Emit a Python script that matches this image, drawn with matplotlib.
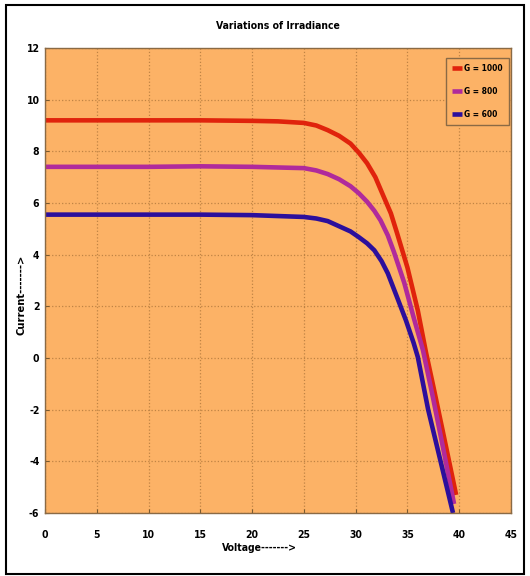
import matplotlib
matplotlib.use("Agg")
import matplotlib.pyplot as plt
from matplotlib.patches import Rectangle
from matplotlib import font_manager as fm

plt.rcParams["axes.unicode_minus"] = False

# Data
v_1000 = [0, 5, 10, 15, 20, 22.5, 25, 26.2, 27.3, 28.4, 29.5, 30.3, 31.1, 31.9, 32.7, 33.4, 34.0, 35.0, 36.0, 36.8, 37.5, 38.5, 39.7]
i_1000 = [9.2, 9.2, 9.2, 9.2, 9.18, 9.16, 9.1, 9.0, 8.82, 8.6, 8.3, 7.95, 7.54, 7.0, 6.25, 5.6, 4.83, 3.5, 1.84, 0.2, -1.1, -3.0, -5.3]

v_800 = [0, 5, 10, 15, 20, 25, 26.2, 27.3, 28.4, 29.5, 30.3, 31.1, 31.8, 32.4, 33.1, 33.7, 34.7, 35.6, 36.5, 37.5, 38.5, 39.5]
i_800 = [7.4, 7.4, 7.4, 7.42, 7.4, 7.35, 7.26, 7.12, 6.92, 6.65, 6.38, 6.05, 5.7, 5.33, 4.75, 4.1, 2.9, 1.57, 0.3, -1.6, -3.6, -5.65]

v_600 = [0, 5, 10, 15, 20, 25, 26.2, 27.3, 28.4, 29.5, 30.3, 31.1, 31.8, 32.5, 33.1, 34.0, 34.85, 35.6, 36.0, 37.0, 38.2, 39.4]
i_600 = [5.55, 5.55, 5.55, 5.55, 5.53, 5.46, 5.4, 5.3, 5.1, 4.9, 4.68, 4.44, 4.17, 3.75, 3.28, 2.35, 1.46, 0.58, 0.04, -2.0, -4.0, -6.0]

labels = ["G = 1000", "G = 800", "G = 600"]
colors = ["#e0230c", "#b02a9c", "#2c0f9c"]
x_ticks = [0, 5, 10, 15, 20, 25, 30, 35, 40, 45]
y_ticks = [-6, -4, -2, 0, 2, 4, 6, 8, 10, 12]

fam = ["DejaVu Sans"]
fp_kw = dict(family=fam, stretch="condensed", weight="bold")

fig = plt.figure(figsize=(5.30, 5.76), dpi=100)
fig.patch.set_facecolor("white")
ax = fig.add_axes([45/530, 1-513/576, (511-45)/530, (513-48)/576])
ax.set_facecolor("#fcb266")

for v, i, lab, c in zip([v_1000, v_800, v_600], [i_1000, i_800, i_600], labels, colors):
    ax.plot(v, i, color=c, lw=3.3, label=lab, solid_capstyle="butt", solid_joinstyle="round")

ax.set_xlim(0, 45)
ax.set_ylim(-6, 12)
ax.set_xticks(x_ticks)
ax.set_yticks(y_ticks)
ax.grid(True, linestyle=":", color="#b0783c", linewidth=0.9, alpha=0.8)
ax.tick_params(direction="in", length=3, color="#7a5a30", labelsize=7.5)
ax.tick_params(axis="x", pad=12)
ax.tick_params(axis="y", pad=4)
for lbl in ax.get_xticklabels() + ax.get_yticklabels():
    lbl.set_family(fam)
    lbl.set_stretch("condensed")
    lbl.set_fontweight("bold")
for s in ax.spines.values():
    s.set_color("#8a6a45")
    s.set_linewidth(1.0)

ax.set_title("Variations of Irradiance", fontsize=7.5, pad=14, **fp_kw)
ax.set_xlabel("Voltage------->", fontsize=7.5, **fp_kw)
ax.set_ylabel("Current------->", fontsize=8, **fp_kw)
ax.xaxis.set_label_coords(0.46, -0.065)
ax.yaxis.set_label_coords(-0.04, 0.47)

leg = ax.legend(loc="upper right", bbox_to_anchor=(0.995, 0.979), borderaxespad=0,
                frameon=True, fancybox=False,
                handlelength=1.2, handletextpad=0.3,
                labelspacing=1.7, borderpad=0.7,
                prop=fm.FontProperties(family=fam, stretch="condensed", weight="bold", size=6))
leg.get_frame().set_facecolor("#fcb266")
leg.get_frame().set_edgecolor("#8a6a45")
leg.get_frame().set_alpha(1)

fig.patches.append(Rectangle((6/530, 1-574/576), 518/530, 569/576, transform=fig.transFigure,
                             fill=False, edgecolor="black", linewidth=1.5))

fig.savefig("out.png", dpi=100)
